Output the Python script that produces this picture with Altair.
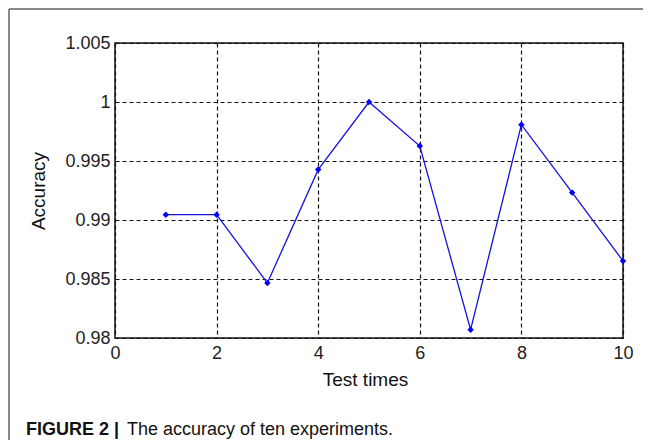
import altair as alt
import pandas as pd

# Data
test_times = [1, 2, 3, 4, 5, 6, 7, 8, 9, 10]
accuracy = [0.99045, 0.99045, 0.98466, 0.99427, 1.0000, 0.99627, 0.9807, 0.99808, 0.99232, 0.98653]
x_ticks = [0, 2, 4, 6, 8, 10]
y_ticks = [0.98, 0.985, 0.99, 0.995, 1.0, 1.005]
caption_bold = "FIGURE 2 |"
caption_text = "The accuracy of ten experiments."

df = pd.DataFrame({"t": test_times, "acc": accuracy})

FONT = "Liberation Sans"
W, H = 508, 295

x_enc = alt.X("t:Q", scale=alt.Scale(domain=[0, 10], nice=False, zero=False),
              axis=alt.Axis(values=x_ticks, format="d", title="Test times",
                            grid=True, gridColor="#111", gridDash=[4, 3], gridWidth=1.2,
                            ticks=False, domain=False, labelFont=FONT, labelFontSize=18,
                            labelColor="#222", labelPadding=6, labelFlush=False,
                            titleFont=FONT, titleFontSize=19, titleFontWeight="normal",
                            titleColor="#111", titleX=250, titleY=47,
                            titleBaseline="alphabetic"))
y_enc = alt.Y("acc:Q", scale=alt.Scale(domain=[0.98, 1.005], nice=False, zero=False),
              axis=alt.Axis(values=y_ticks, format=".3~f", title="Accuracy",
                            grid=True, gridColor="#111", gridDash=[4, 3], gridWidth=1.2,
                            ticks=False, domain=False, labelFont=FONT, labelFontSize=18,
                            labelColor="#222", labelPadding=5, labelFlush=False,
                            titleFont=FONT, titleFontSize=19, titleFontWeight="normal",
                            titleColor="#111", titleX=-67, titleY=H / 2,
                            titleBaseline="bottom", titleAngle=-90))

base = alt.Chart(df)
line = base.mark_line(color="#1414d8", strokeWidth=1.3).encode(x=x_enc, y=y_enc)
pts = base.mark_point(shape="diamond", filled=True, color="#0000ff", size=42, opacity=1).encode(x="t:Q", y="acc:Q")

frame_top = alt.Chart(df).mark_rule(color="#888", strokeWidth=1.5).encode(
    x=alt.value(-106), x2=alt.value(W + 20), y=alt.value(-34))
frame_left = alt.Chart(df).mark_rule(color="#888", strokeWidth=1.5).encode(
    x=alt.value(-106), y=alt.value(-34), y2=alt.value(H + 110))

cap_df = pd.DataFrame({"b": [caption_bold], "r": [caption_text]})
cap1 = alt.Chart(cap_df).mark_text(font=FONT, fontSize=18, fontWeight="bold", align="left",
                                   baseline="alphabetic", color="#111").encode(
    text="b:N", x=alt.value(-89), y=alt.value(392))
cap2 = alt.Chart(cap_df).mark_text(font=FONT, fontSize=18, align="left",
                                   baseline="alphabetic", color="#111").encode(
    text="r:N", x=alt.value(12), y=alt.value(392))

chart = alt.layer(frame_top, frame_left, line, pts, cap1, cap2).properties(
    width=W, height=H,
    autosize=alt.AutoSizeParams(type="none"),
    padding={"left": 107, "top": 35, "right": 20, "bottom": 102},
    background="white",
).configure_view(stroke="#111", strokeWidth=1.5)

chart.save("out.html", embed_options={"renderer": "svg", "actions": False})
